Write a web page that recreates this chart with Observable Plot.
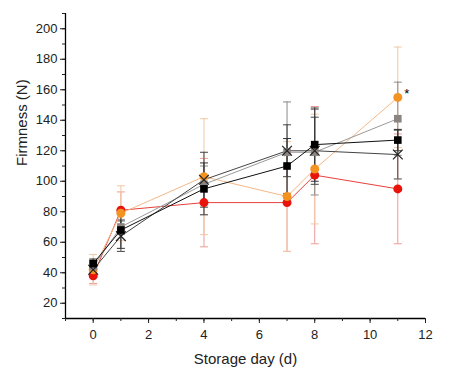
<!DOCTYPE html>
<html><head><meta charset="utf-8">
<script src="https://cdn.jsdelivr.net/npm/d3@7"></script>
<script src="https://cdn.jsdelivr.net/npm/@observablehq/plot@0.6"></script>
<style>body{margin:0;background:#fff;font-family:"Liberation Sans",Arial,sans-serif;}</style>
</head><body><div id="chart"></div>
<script>
const days = [0, 1, 4, 7, 8, 11];
const blackSq = [46, 68, 95, 110, 124, 127];
const blackSqErr = [3, 12, 17, 18, 24, 7];
const graySq = [44, 70, 98, 119, 119, 141];
const graySqErr = [4, 5, 12, 33, 28, 24];
const crossX = [42, 64, 101, 120, 120, 117.5];
const crossXErr = [5, 10, 18, 17, 22, 16];
const orange = [42, 79, 103, 90, 108, 155];
const orangeErr = [10, 18, 38, 36, 36, 33];
const red = [38, 81, 86, 86, 104, 95];
const redErr = [5, 12, 29, 32, 45, 36];
const yTicks = [20, 40, 60, 80, 100, 120, 140, 160, 180, 200];
const xTicks = [0, 2, 4, 6, 8, 10, 12];
const starLabel = "*";

const seriesDefs = [
  {name: "red", vals: red, err: redErr, line: "#e8403a", bar: "#ee9a96", symbol: "circle", fill: "#e8140c", r: 4.5},
  {name: "orange", vals: orange, err: orangeErr, line: "#f4b888", bar: "#f2c8a4", symbol: "circle", fill: "#f39322", r: 4.5},
  {name: "gray", vals: graySq, err: graySqErr, line: "#9a9a9a", bar: "#8a8a8a", symbol: "square", fill: "#8c8480", r: 4.3},
  {name: "cross", vals: crossX, err: crossXErr, line: "#444", bar: "#444", symbol: "times", fill: "none", r: 4.5},
  {name: "black", vals: blackSq, err: blackSqErr, line: "#111", bar: "#333", symbol: "square", fill: "#000", r: 4.3}
];

const rows = [];
for (const s of seriesDefs) {
  days.forEach((d, i) => rows.push({series: s.name, day: d, v: s.vals[i], lo: s.vals[i] - s.err[i], hi: s.vals[i] + s.err[i]}));
}

const capSymbol = {
  draw(ctx, size) { const w = 4; ctx.moveTo(-w, 0); ctx.lineTo(w, 0); }
};

const marks = [];
for (const s of seriesDefs) {
  const d = rows.filter(r => r.series === s.name);
  marks.push(Plot.ruleX(d, {x: "day", y1: "lo", y2: "hi", stroke: s.bar, strokeWidth: 1}));
  marks.push(Plot.dot(d, {x: "day", y: "lo", symbol: capSymbol, r: 4, stroke: s.bar, strokeWidth: 1}));
  marks.push(Plot.dot(d, {x: "day", y: "hi", symbol: capSymbol, r: 4, stroke: s.bar, strokeWidth: 1}));
}
for (const s of seriesDefs) {
  const d = rows.filter(r => r.series === s.name);
  marks.push(Plot.line(d, {x: "day", y: "v", stroke: s.line, strokeWidth: 1}));
}
for (const s of seriesDefs) {
  const d = rows.filter(r => r.series === s.name);
  if (s.symbol === "times") {
    marks.push(Plot.dot(d, {x: "day", y: "v", symbol: "times", r: s.r, stroke: "#222", strokeWidth: 1.2}));
  } else {
    marks.push(Plot.dot(d, {x: "day", y: "v", symbol: s.symbol, r: s.r, fill: s.fill, stroke: "none"}));
  }
}
marks.push(Plot.text([{day: days[5], v: orange[5]}], {x: "day", y: "v", text: () => starLabel, dx: 9, dy: -4, fontSize: 13, fill: "#000"}));
marks.push(Plot.ruleX([-1], {stroke: "#000", strokeWidth: 1.3}));
marks.push(Plot.ruleY([10], {stroke: "#000", strokeWidth: 1.3}));
marks.push(Plot.axisY({ticks: yTicks, tickSize: 5, tickPadding: 3, fontSize: 13, label: null, tickFormat: d => d}));
marks.push(Plot.axisY({ticks: d3.range(10, 211, 10), tickSize: 3, tickFormat: () => "", label: null}));
marks.push(Plot.axisX({ticks: xTicks, tickSize: 5, tickPadding: 6, fontSize: 13, label: null}));
marks.push(Plot.axisX({ticks: d3.range(-1, 13, 1), tickSize: 3, tickFormat: () => "", label: null}));
marks.push(Plot.text(["Storage day (d)"], {frameAnchor: "bottom", dy: 45, fontSize: 15, fill: "#222"}));
marks.push(Plot.text(["Firmness (N)"], {frameAnchor: "left", dx: -43, rotate: -90, fontSize: 15, fill: "#222"}));

const chart = Plot.plot({
  width: 449, height: 384,
  marginLeft: 65, marginRight: 24, marginTop: 13, marginBottom: 66,
  style: {fontFamily: "Liberation Sans, Arial, sans-serif", color: "#222", background: "#fff"},
  x: {domain: [-1, 12]},
  y: {domain: [10, 210]},
  marks
});
document.getElementById("chart").appendChild(chart);
</script></body></html>
